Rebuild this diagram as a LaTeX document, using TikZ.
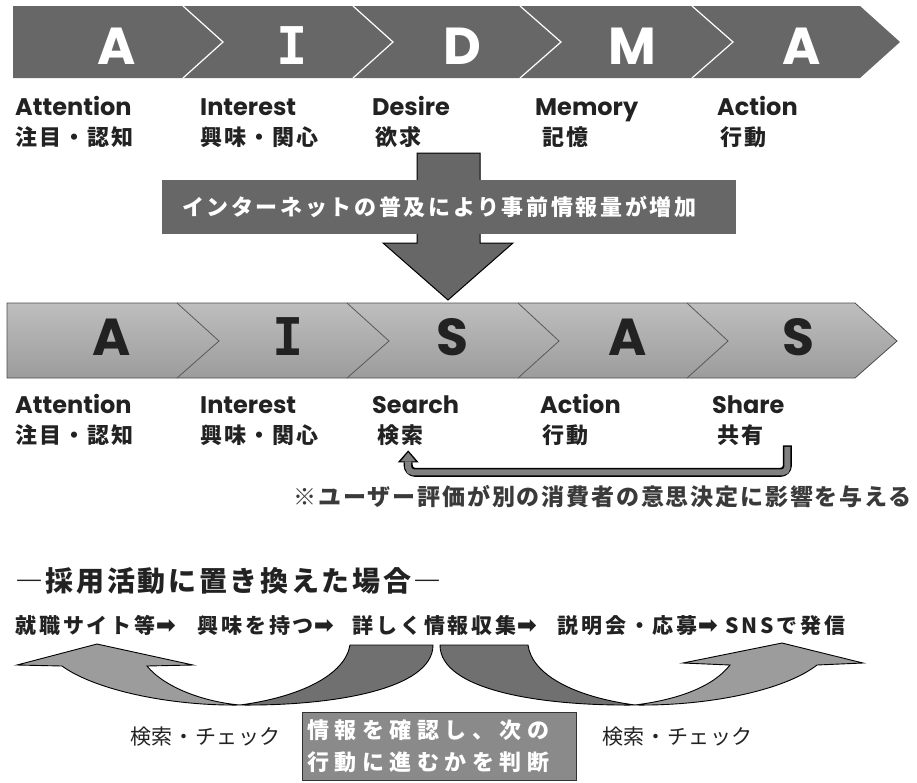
\documentclass[tikz,border=0pt]{standalone}
\usepackage{fontspec}
\setmainfont{Noto Sans CJK JP}
\newfontfamily\latinfont{Poppins}
\newfontfamily\monofont{DejaVu Sans Mono}
\newfontfamily\symfont{DejaVu Sans}
\usetikzlibrary{positioning,arrows.meta}

\definecolor{bannerDark}{HTML}{676767}
\definecolor{bandTop}{HTML}{BEBEBE}
\definecolor{bandBottom}{HTML}{9C9C9C}
\definecolor{ribbonLight}{HTML}{9C9C9C}
\definecolor{ribbonDark}{HTML}{707070}
\definecolor{judgeGray}{HTML}{8A8A8A}
\definecolor{inkGray}{HTML}{222222}
\definecolor{noteGray}{HTML}{3A3A3A}

\newcommand{\stepArrow}{{\symfont\bfseries\fontsize{24}{24}\selectfont ➡}}

\begin{document}
\begin{tikzpicture}[%
    x=1pt, y=-1pt,
    darkBanner/.style={%
        fill=bannerDark
    },
    lightBanner/.style={%
        top color=bandTop,
        bottom color=bandBottom,
        draw=black!70,
        line width=0.8pt
    },
    whiteSep/.style={%
        draw=white,
        line width=1.2pt
    },
    darkSep/.style={%
        draw=black!65,
        line width=0.8pt
    },
    topLetter/.style={%
        inner sep=0pt,
        text=white,
        font=\latinfont\bfseries\fontsize{52}{56}\selectfont
    },
    bottomLetter/.style={%
        inner sep=0pt,
        text=inkGray,
        font=\latinfont\bfseries\fontsize{52}{56}\selectfont
    },
    nameLabel/.style={%
        anchor=base west,
        inner sep=0pt,
        text=inkGray,
        font=\latinfont\bfseries\fontsize{24}{28}\selectfont
    },
    jpLabel/.style={%
        inner sep=0pt,
        text=inkGray,
        font=\bfseries\fontsize{22}{26}\selectfont\addfontfeature{LetterSpace=9}
    },
    netBox/.style={%
        fill=bannerDark,
        text=white,
        minimum height=54pt,
        inner xsep=20pt,
        text width=534pt,
        align=left,
        font=\bfseries\fontsize{22}{26}\selectfont\addfontfeature{LetterSpace=12}
    },
    downArrow/.style={%
        fill=bannerDark,
        draw=black,
        line width=1pt
    },
    fbOuter/.style={%
        draw=black,
        line width=9pt,
        rounded corners=7pt,
        -{Triangle[length=12pt,width=21pt,line width=0pt]}
    },
    fbInner/.style={%
        draw=gray,
        line width=6pt,
        rounded corners=5pt,
        shorten <=1.5pt,
        shorten >=2pt,
        -{Triangle[length=9pt,width=15pt,line width=0pt]}
    },
    noteText/.style={%
        anchor=base east,
        inner sep=0pt,
        text=noteGray,
        font=\bfseries\fontsize{23}{27}\selectfont\addfontfeature{LetterSpace=8}
    },
    titleText/.style={%
        anchor=base west,
        inner sep=0pt,
        text=inkGray,
        font=\bfseries\fontsize{28}{32}\selectfont\addfontfeature{LetterSpace=9.5}
    },
    stepText/.style={%
        anchor=base west,
        inner sep=0pt,
        text=inkGray,
        font=\bfseries\fontsize{21}{25}\selectfont\addfontfeature{LetterSpace=14}
    },
    ribbonLightPart/.style={%
        fill=ribbonLight,
        draw=black,
        line width=0.9pt
    },
    ribbonDarkPart/.style={%
        fill=ribbonDark,
        draw=black,
        line width=0.9pt
    },
    checkText/.style={%
        anchor=base west,
        inner sep=0pt,
        text=inkGray,
        font=\fontsize{21}{25}\selectfont\addfontfeature{LetterSpace=3}
    },
    judgeBox/.style={%
        fill=judgeGray,
        draw=black!80,
        line width=1pt,
        minimum height=68pt,
        inner xsep=5pt,
        text width=264pt,
        align=left,
        text=white,
        font=\bfseries\fontsize{22}{32}\selectfont\addfontfeature{LetterSpace=25}
    }
]
\useasboundingbox (0,0) rectangle (917,782);

% AIDMA banner
\fill[darkBanner] (13,6) -- (860,6) -- (900,42) -- (860,78) -- (13,78) -- cycle;
\draw[whiteSep] (183,6) -- (223,42) -- (183,78);
\draw[whiteSep] (353,6) -- (393,42) -- (353,78);
\draw[whiteSep] (520,6) -- (561,42) -- (520,78);
\draw[whiteSep] (692,6) -- (733,42) -- (692,78);

\node[topLetter] (aidmaA) at (117,46) {A};
\node[topLetter, font=\monofont\bfseries\fontsize{52}{56}\selectfont] (aidmaI) at (292,46) {I};
\node[topLetter] (aidmaD) at (462,46) {D};
\node[topLetter] (aidmaM) at (632,46) {M};
\node[topLetter] (aidmaA2) at (802,46) {A};

% AIDMA labels
\node[nameLabel] (attnTop) at (15,115) {Attention};
\node[jpLabel, below=30pt of attnTop.base west, anchor=base west] (attnTopJp) {注目・認知};
\node[nameLabel] (intTop) at (200,115) {Interest};
\node[jpLabel, below=30pt of intTop.base west, anchor=base west] (intTopJp) {興味・関心};
\node[nameLabel] (desire) at (372,115) {Desire};
\node[jpLabel, below=30pt of desire.base west, anchor=base west, xshift=3pt] (desireJp) {欲求};
\node[nameLabel] (memory) at (535,115) {Memory};
\node[jpLabel, below=30pt of memory.base west, anchor=base west, xshift=7pt] (memoryJp) {記憶};
\node[nameLabel] (actTop) at (717,115) {Action};
\node[jpLabel, below=30pt of actTop.base west, anchor=base west, xshift=3pt] (actTopJp) {行動};

% Change arrow
\draw[downArrow] (417,153) -- (480,153) -- (480,243) -- (513,243) -- (448,300) -- (383,243) -- (417,243) -- cycle;
\node[netBox] (netInfo) at (449,207) {インターネットの普及により事前情報量が増加};

% AISAS banner
\draw[lightBanner] (7,303) -- (855,303) -- (897,341) -- (855,378) -- (7,378) -- cycle;
\draw[darkSep] (177,303) -- (219,341) -- (177,378);
\draw[darkSep] (347,303) -- (389,341) -- (347,378);
\draw[darkSep] (518,303) -- (559,341) -- (518,378);
\draw[darkSep] (687,303) -- (728,341) -- (687,378);

\node[bottomLetter] (aisasA) at (112,337) {A};
\node[bottomLetter, font=\monofont\bfseries\fontsize{52}{56}\selectfont] (aisasI) at (288,337) {I};
\node[bottomLetter] (aisasS) at (452,337) {S};
\node[bottomLetter] (aisasA2) at (628,337) {A};
\node[bottomLetter] (aisasS2) at (798,337) {S};

% AISAS labels
\node[nameLabel] (attnBot) at (15,413) {Attention};
\node[jpLabel, below=30pt of attnBot.base west, anchor=base west] (attnBotJp) {注目・認知};
\node[nameLabel] (intBot) at (200,413) {Interest};
\node[jpLabel, below=30pt of intBot.base west, anchor=base west] (intBotJp) {興味・関心};
\node[nameLabel] (search) at (372,413) {Search};
\node[jpLabel, below=30pt of search.base west, anchor=base west, xshift=5pt] (searchJp) {検索};
\node[nameLabel] (actBot) at (540,413) {Action};
\node[jpLabel, below=30pt of actBot.base west, anchor=base west, xshift=2pt] (actBotJp) {行動};
\node[nameLabel] (share) at (712,413) {Share};
\node[jpLabel, below=30pt of share.base west, anchor=base west, xshift=5pt] (shareJp) {共有};

% Feedback
\draw[fbOuter] ([xshift=24pt]shareJp.south east) -- ++(0,27) -| ([xshift=8pt,yshift=-5pt]searchJp.south);
\draw[fbInner] ([xshift=24pt]shareJp.south east) -- ++(0,27) -| ([xshift=8pt,yshift=-5pt]searchJp.south);
\node[noteText] (note) at (912,505) {※ユーザー評価が別の消費者の意思決定に影響を与える};

% Recruiting
\node[titleText] (title) at (15,591) {―採用活動に置き換えた場合―};
\node[stepText] (step1) at (15,633) {就職サイト等\stepArrow};
\node[stepText] (step2) at (197,633) {興味を持つ\stepArrow};
\node[stepText] (step3) at (352,633) {詳しく情報収集\stepArrow};
\node[stepText] (step4) at (557,633) {説明会・応募\stepArrow};
\node[stepText] (step5) at (725,633) {SNSで発信};

% Curved arrows
\fill[ribbonDarkPart] (350,645) -- (433,645) .. controls (433,690) and (330,706) .. (240,705)
    .. controls (300,697) and (345,675) .. (350,645) -- cycle;
\fill[ribbonLightPart] (62,666) .. controls (95,690) and (170,706) .. (240,705)
    .. controls (205,702) and (165,688) .. (147,666) -- (193,665) -- (97,644) -- (17,665) -- cycle;
\fill[ribbonDarkPart] (440,645) -- (528,645) .. controls (532,675) and (575,697) .. (635,705)
    .. controls (540,706) and (440,690) .. (440,645) -- cycle;
\fill[ribbonLightPart] (817,665) -- (863,663) -- (782,643) -- (683,663) -- (730,665)
    .. controls (712,688) and (675,700) .. (635,705) .. controls (710,706) and (785,690) .. (817,665) -- cycle;

\node[checkText] (checkLeft) at (130,744) {検索・チェック};
\node[checkText] (checkRight) at (602,744) {検索・チェック};
\node[judgeBox] (judge) at (439,746) {情報を確認し、次の\\行動に進むかを判断};

\end{tikzpicture}
\end{document}
